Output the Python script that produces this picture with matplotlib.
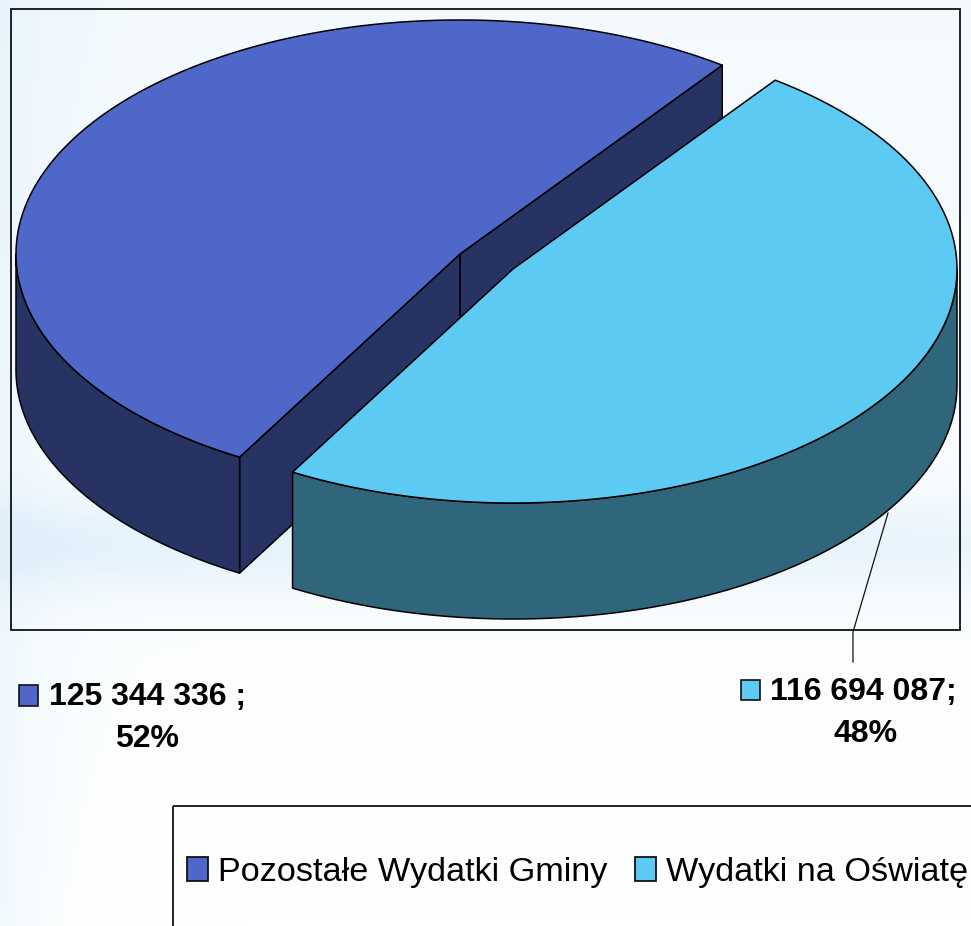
import numpy as np
import matplotlib
matplotlib.use("Agg")
import matplotlib.pyplot as plt
from matplotlib.colors import LinearSegmentedColormap
from matplotlib.patches import Polygon, Rectangle

series_names = ["Pozostałe Wydatki Gminy", "Wydatki na Oświatę"]
values = [125344336, 116694087]
value_labels = ["125 344 336 ;", "116 694 087;"]
percent_labels = ["52%", "48%"]
top_colors = ["#4f67c8", "#5dcaf3"]
side_colors = ["#273362", "#30667b"]

W, H = 971, 926
RX, RY, DEPTH = 444, 234, 116
START = 53.8
LW = 1.1

plt.rcParams["font.family"] = ["Liberation Sans", "DejaVu Sans"]

fig = plt.figure(figsize=(W / 100, H / 100), dpi=100)
ax = fig.add_axes([0, 0, 1, 1])
ax.set_xlim(0, W)
ax.set_ylim(H, 0)
ax.axis("off")


def arc(cx, cy, t0, t1, dy=0):
    t = np.radians(np.linspace(t0, t1, 240))
    return np.column_stack([cx + RX * np.cos(t), cy - RY * np.sin(t) + dy])


def background():
    # pale slide gradient, bluish at the left edge and in a band low on the plot
    yy, xx = np.mgrid[0:1:200j, 0:1:200j]
    band = np.exp(-((yy - 0.59) / 0.05) ** 2) * 0.7
    top = (1 - yy) * 0.35
    left = np.exp(-xx / 0.05) * 0.4
    level = np.clip(band * (1 - 0.25 * xx) + top + left, 0, 1)
    cmap = LinearSegmentedColormap.from_list("bg", ["#ffffff", "#dff0fb"])
    ax.imshow(level, extent=[0, W, H, 0], cmap=cmap, vmin=0, vmax=1,
              aspect="auto", zorder=0, interpolation="bilinear")
    ax.set_xlim(0, W)
    ax.set_ylim(H, 0)


def draw_face(points, color, z):
    ax.add_patch(Polygon(points, closed=True, facecolor=color, edgecolor="black",
                         linewidth=LW, joinstyle="round", zorder=z))


background()

ax.add_patch(Rectangle((11, 9), 949, 621, fill=False, edgecolor="#111111",
                       linewidth=1.3, zorder=1))

# wedge angles come from the values
total = sum(values)
sweeps = [v / total * 360 for v in values]
t0_blue, t1_blue = START, START + sweeps[0]
t0_light, t1_light = t1_blue, t1_blue + sweeps[1]

# dark blue wedge
cx, cy = 460, 254
rim = arc(cx, cy, t0_blue, t0_blue, 0)[0]
edge = arc(cx, cy, t1_blue, t1_blue, 0)[0]
draw_face([(cx, cy), rim, rim + (0, DEPTH), (cx, cy + DEPTH)], side_colors[0], 2)
draw_face([(cx, cy), edge, edge + (0, DEPTH), (cx, cy + DEPTH)], side_colors[0], 2)
side = np.vstack([arc(cx, cy, 180, t1_blue), arc(cx, cy, t1_blue, 180, DEPTH)])
draw_face(side, side_colors[0], 3)
draw_face(np.vstack([[(cx, cy)], arc(cx, cy, t0_blue, t1_blue)]), top_colors[0], 4)

# light blue wedge, pulled out
cx, cy = 513, 269
side = np.vstack([arc(cx, cy, t0_light, 360), arc(cx, cy, 360, t0_light, DEPTH)])
draw_face(side, side_colors[1], 5)
draw_face(np.vstack([[(cx, cy)], arc(cx, cy, t0_light, t1_light)]), top_colors[1], 6)

# leader line of the right label
ax.plot([888, 853, 853], [513, 632, 662], color="#111111", lw=0.9, zorder=7)

# data labels
label_font = {"fontsize": 23, "fontweight": "bold", "color": "black", "va": "center"}
ax.text(49, 697, value_labels[0], ha="left", **label_font)
ax.text(147, 739, percent_labels[0], ha="center", **label_font)
ax.text(770, 692, value_labels[1], ha="left", **label_font)
ax.text(866, 734, percent_labels[1], ha="center", **label_font)
ax.add_patch(Rectangle((19, 685), 19, 21, facecolor=top_colors[0], edgecolor="#111111",
                       linewidth=1.2, zorder=7))
ax.add_patch(Rectangle((741, 680), 19, 20, facecolor=top_colors[1], edgecolor="#111111",
                       linewidth=1.2, zorder=7))

# legend box runs off the picture to the right and bottom
ax.add_patch(Rectangle((173, 806), 900, 200, facecolor="none", edgecolor="#111111",
                       linewidth=1.3, zorder=1))
legend_font = {"fontsize": 24.7, "color": "black", "va": "center", "ha": "left"}
ax.add_patch(Rectangle((187, 857), 21, 24, facecolor=top_colors[0], edgecolor="#111111",
                       linewidth=1.3, zorder=7))
ax.text(218, 872, series_names[0], **legend_font)
ax.add_patch(Rectangle((635, 857), 21, 24, facecolor=top_colors[1], edgecolor="#111111",
                       linewidth=1.3, zorder=7))
ax.text(666, 872, series_names[1], **legend_font)

fig.savefig("out.png", dpi=100)
